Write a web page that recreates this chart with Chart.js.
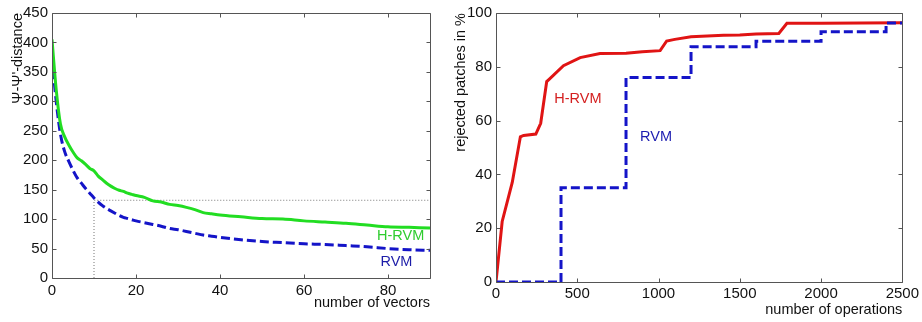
<!DOCTYPE html>
<html><head><meta charset="utf-8">
<script src="https://cdn.jsdelivr.net/npm/chart.js@4.4.1/dist/chart.umd.min.js"></script>
<style>
html,body{margin:0;padding:0;background:#fff;}
#wrap{position:relative;width:922px;height:322px;overflow:hidden;background:#fff;}
canvas{position:absolute;left:0;top:0;}
</style></head><body>
<div id="wrap"><canvas id="left" width="922" height="322"></canvas><canvas id="right" width="922" height="322"></canvas></div>
<script>
// ---------- left chart data ----------
const vectorCounts = [0,1,2,3,4,5,6,7,8,9,10,11,12,13,14,15,16,17,18,19,20,22,24,26,28,30,32,34,36,38,40,45,50,55,60,65,70,75,80,85,90];
const hrvmDistance = [405,320,262,240,226,214,204,199,193,186,182,173,167,161,156,152,149,147,144,142,140,137,131,129,125,123,120,116,111,109,107,104,101,100,97,95,93,90,87,86,85];
const rvmDistance  = [375,300,245,215,198,183,170,161,152,144,136,129,123,118,114,110,106,103,101,99,97,94,91,88,84,82,79,76,73,71,69,65,62,60,58,57,55,53,50,48,47];
const refLineX = [10,10,90];
const refLineY = [0,132,132];
const vectorTicks = [0,20,40,60,80];
const distanceTicks = [0,50,100,150,200,250,300,350,400,450];

// ---------- right chart data ----------
const opsHrvm = [0,38,100,150,170,245,275,312,330,415,518,640,800,900,1010,1050,1100,1200,1400,1500,1600,1740,1790,2000,2500];
const rejectedHrvm = [0,22.5,37,54,54.5,55,59,74.5,75.5,80.4,83.4,84.9,85,85.6,86,89.6,90.2,91.2,91.7,91.8,92.2,92.4,96.2,96.2,96.4];
const opsRvm = [0,400,800,1200,1600,2000,2400,2500];
const rejectedRvm = [0,35,76,87.5,89.5,93,96.3,96.3];
const opsTicks = [0,500,1000,1500,2000,2500];
const rejectedTicks = [0,20,40,60,80,100];

// ---------- styling ----------
const FONT = "'Liberation Sans', Arial, sans-serif";
const TXT = '#111';
const toXY = (xs, ys) => xs.map((x, i) => ({x, y: ys[i]}));

const framePlugin = {
  id: 'frame',
  afterDatasetsDraw(chart) {
    const {ctx, chartArea: {left, right, top, bottom}, scales: {x, y}} = chart;
    const L = 4;
    ctx.save();
    ctx.strokeStyle = '#555';
    ctx.lineWidth = 1;
    ctx.beginPath();
    const l = Math.round(left) + 0.5, r = Math.round(right) + 0.5, t = Math.round(top) + 0.5, b = Math.round(bottom) + 0.5;
    ctx.rect(l, t, r - l, b - t);
    x.ticks.forEach(tk => {
      const px = Math.round(x.getPixelForValue(tk.value)) + 0.5;
      ctx.moveTo(px, b); ctx.lineTo(px, b - L);
      ctx.moveTo(px, t); ctx.lineTo(px, t + L);
    });
    y.ticks.forEach(tk => {
      const py = Math.round(y.getPixelForValue(tk.value)) + 0.5;
      ctx.moveTo(l, py); ctx.lineTo(l + L, py);
      ctx.moveTo(r, py); ctx.lineTo(r - L, py);
    });
    ctx.stroke();
    ctx.restore();
  }
};

const labelPlugin = {
  id: 'curveLabels',
  afterDraw(chart, args, opts) {
    const {ctx, scales: {x, y}} = chart;
    ctx.save();
    ctx.font = '14.5px ' + FONT;
    ctx.textAlign = 'center';
    ctx.textBaseline = 'middle';
    (opts.items || []).forEach(it => {
      ctx.fillStyle = it.color;
      ctx.fillText(it.text, x.getPixelForValue(it.x), y.getPixelForValue(it.y));
    });
    ctx.restore();
  }
};

function axisCfg(min, max, ticksArr, titleText, opts) {
  return {
    type: 'linear', min, max,
    afterBuildTicks: s => { s.ticks = ticksArr.map(v => ({value: v})); },
    afterFit: s => { if (opts.width) s.width = opts.width; if (opts.height) s.height = opts.height; },
    grid: {display: false, drawTicks: false},
    border: {display: false},
    ticks: {font: {family: FONT, size: 15}, color: TXT, padding: opts.tickPad, maxRotation: 0, autoSkip: false,
            callback: v => String(v)},
    title: {display: true, text: titleText, align: 'end', color: TXT, font: {family: FONT, size: 14.5}, padding: opts.titlePad}
  };
}

new Chart(document.getElementById('left'), {
  type: 'line',
  data: {
    datasets: [
      {data: toXY(vectorCounts, hrvmDistance), borderColor: '#22dd22', borderWidth: 3, pointRadius: 0, cubicInterpolationMode: 'monotone', fill: false},
      {data: toXY(vectorCounts, rvmDistance), borderColor: '#1414c8', borderWidth: 3, borderDash: [9, 4], pointRadius: 0, cubicInterpolationMode: 'monotone', fill: false},
      {data: toXY(refLineX, refLineY), borderColor: '#777', borderWidth: 1, borderDash: [1, 2], pointRadius: 0, tension: 0, fill: false}
    ]
  },
  options: {
    responsive: false, animation: false, events: [],
    layout: {padding: {left: 0, top: 10, right: 492, bottom: 0}},
    scales: {
      x: axisCfg(0, 90, vectorTicks, 'number of vectors', {height: 44, tickPad: 4, titlePad: {top: 0, bottom: 10}}),
      y: axisCfg(0, 450, distanceTicks, "Ψ-Ψ'-distance", {width: 52, tickPad: 4, titlePad: {top: 9, bottom: 0}})
    },
    plugins: {
      legend: {display: false}, tooltip: {enabled: false},
      curveLabels: {items: [
        {text: 'H-RVM', x: 83, y: 72, color: '#2ecc2e'},
        {text: 'RVM', x: 82, y: 27, color: '#1c1ca8'}
      ]}
    }
  },
  plugins: [framePlugin, labelPlugin]
});

new Chart(document.getElementById('right'), {
  type: 'line',
  data: {
    datasets: [
      {data: toXY(opsRvm, rejectedRvm), borderColor: '#1414c8', borderWidth: 3, borderDash: [9, 4], pointRadius: 0, stepped: 'before', fill: false},
      {data: toXY(opsHrvm, rejectedHrvm), borderColor: '#e01414', borderWidth: 3, pointRadius: 0, tension: 0, fill: false}
    ]
  },
  options: {
    responsive: false, animation: false, events: [],
    layout: {padding: {left: 448, top: 12, right: 19, bottom: 0}},
    scales: {
      x: axisCfg(0, 2500, opsTicks, 'number of operations', {height: 40, tickPad: 3, titlePad: {top: 0, bottom: 3}}),
      y: axisCfg(0, 100, rejectedTicks, 'rejected patches in %', {width: 48, tickPad: 4, titlePad: {top: 4, bottom: 0}})
    },
    plugins: {
      legend: {display: false}, tooltip: {enabled: false},
      curveLabels: {items: [
        {text: 'H-RVM', x: 504, y: 68, color: '#d42020'},
        {text: 'RVM', x: 985, y: 54, color: '#1c1cb0'}
      ]}
    }
  },
  plugins: [framePlugin, labelPlugin]
});
</script>
</body></html>
